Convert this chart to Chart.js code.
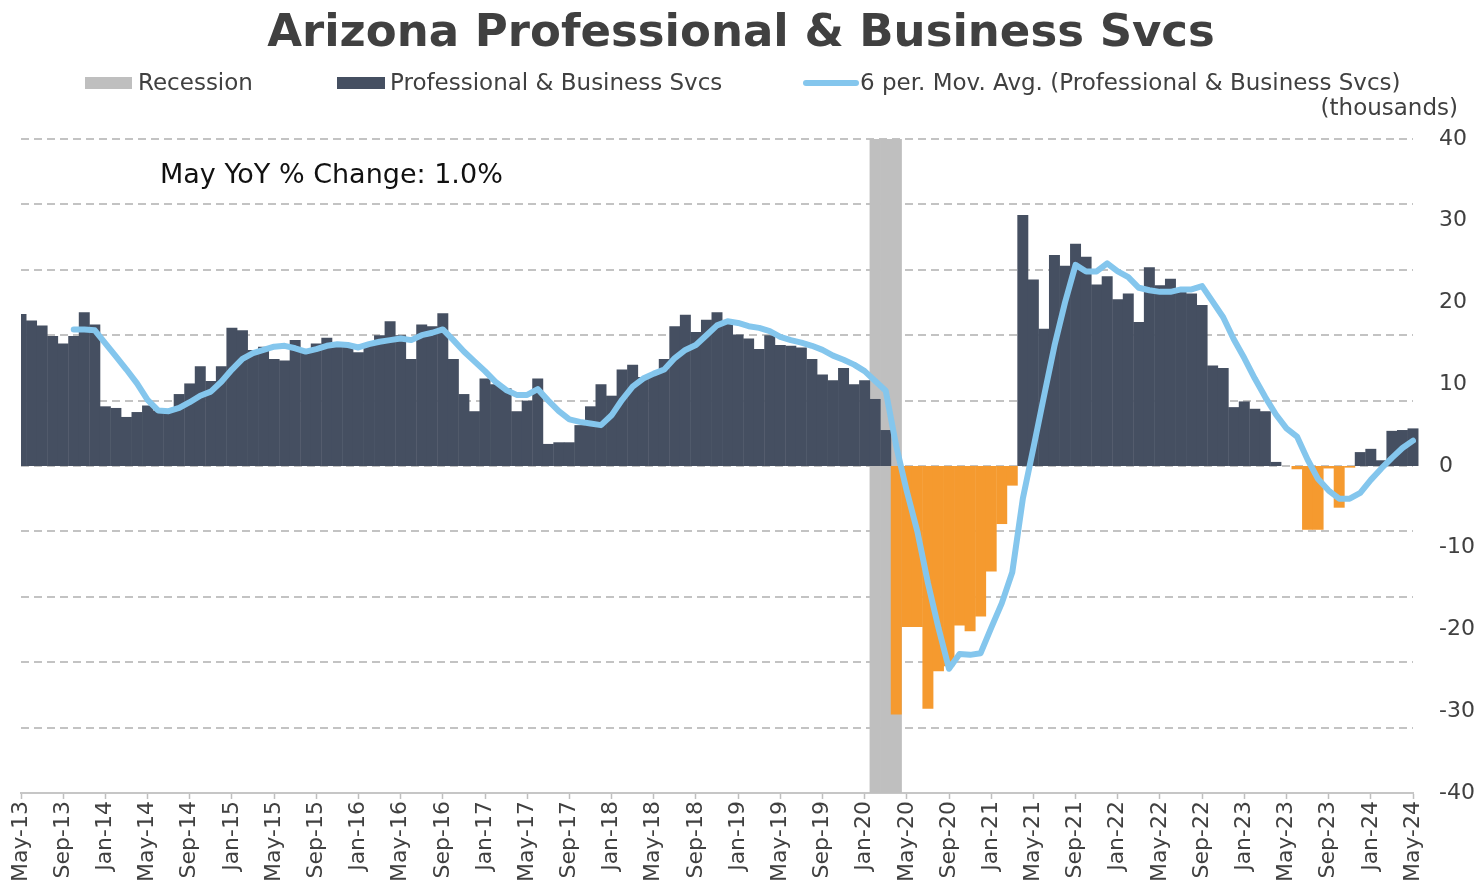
<!DOCTYPE html>
<html>
<head>
<meta charset="utf-8">
<script src="https://cdn.jsdelivr.net/npm/chart.js@4/dist/chart.umd.min.js"></script>
<style>
html,body{margin:0;padding:0;background:#ffffff;}
#wrap{width:1478px;height:895px;position:relative;}
</style>
</head>
<body>
<div id="wrap"><canvas id="c" width="1478" height="895"></canvas></div>
<script>
// ---------------- data ----------------
const chartTitle = 'Arizona Professional & Business Svcs';
const unitsLabel = '(thousands)';
const noteText = 'May YoY % Change: 1.0%';

const categories = [
  'May-13','Jun-13','Jul-13','Aug-13','Sep-13','Oct-13','Nov-13','Dec-13',
  'Jan-14','Feb-14','Mar-14','Apr-14','May-14','Jun-14','Jul-14','Aug-14','Sep-14','Oct-14','Nov-14','Dec-14',
  'Jan-15','Feb-15','Mar-15','Apr-15','May-15','Jun-15','Jul-15','Aug-15','Sep-15','Oct-15','Nov-15','Dec-15',
  'Jan-16','Feb-16','Mar-16','Apr-16','May-16','Jun-16','Jul-16','Aug-16','Sep-16','Oct-16','Nov-16','Dec-16',
  'Jan-17','Feb-17','Mar-17','Apr-17','May-17','Jun-17','Jul-17','Aug-17','Sep-17','Oct-17','Nov-17','Dec-17',
  'Jan-18','Feb-18','Mar-18','Apr-18','May-18','Jun-18','Jul-18','Aug-18','Sep-18','Oct-18','Nov-18','Dec-18',
  'Jan-19','Feb-19','Mar-19','Apr-19','May-19','Jun-19','Jul-19','Aug-19','Sep-19','Oct-19','Nov-19','Dec-19',
  'Jan-20','Feb-20','Mar-20','Apr-20','May-20','Jun-20','Jul-20','Aug-20','Sep-20','Oct-20','Nov-20','Dec-20',
  'Jan-21','Feb-21','Mar-21','Apr-21','May-21','Jun-21','Jul-21','Aug-21','Sep-21','Oct-21','Nov-21','Dec-21',
  'Jan-22','Feb-22','Mar-22','Apr-22','May-22','Jun-22','Jul-22','Aug-22','Sep-22','Oct-22','Nov-22','Dec-22',
  'Jan-23','Feb-23','Mar-23','Apr-23','May-23','Jun-23','Jul-23','Aug-23','Sep-23','Oct-23','Nov-23','Dec-23',
  'Jan-24','Feb-24','Mar-24','Apr-24','May-24'
];

const xTickLabels = [
  'May-13','Sep-13','Jan-14','May-14','Sep-14','Jan-15','May-15','Sep-15','Jan-16','May-16','Sep-16',
  'Jan-17','May-17','Sep-17','Jan-18','May-18','Sep-18','Jan-19','May-19','Sep-19','Jan-20','May-20',
  'Sep-20','Jan-21','May-21','Sep-21','Jan-22','May-22','Sep-22','Jan-23','May-23','Sep-23','Jan-24','May-24'
];

// YoY change, thousands
const pbsValues = [
  18.6,17.8,17.2,15.9,15.0,15.9,18.8,17.3,
  7.3,7.1,6.0,6.6,7.4,6.8,6.9,8.8,10.1,12.2,10.4,12.2,
  16.9,16.6,14.2,14.6,13.1,12.9,15.4,14.2,15.0,15.7,14.6,14.6,
  13.9,14.8,16.0,17.7,16.0,13.1,17.3,17.1,18.7,13.1,8.8,6.7,
  10.7,10.0,9.5,6.7,8.0,10.7,2.7,2.9,2.9,5.0,7.3,10.0,
  8.6,11.8,12.4,10.9,11.2,13.1,17.1,18.5,16.4,17.9,18.8,17.5,
  16.1,15.6,14.3,16.0,14.8,14.7,14.5,13.1,11.2,10.5,12.0,10.0,
  10.5,8.2,4.4,-30.4,-19.7,-19.7,-29.7,-25.1,-24.5,-19.5,-20.2,-18.4,
  -12.9,-7.1,-2.4,30.7,22.8,16.8,25.8,24.5,27.2,25.6,22.2,23.2,
  20.4,21.1,17.6,24.3,22.1,22.9,21.6,21.1,19.7,12.3,12.0,7.2,
  7.9,7.0,6.7,0.5,0.0,-0.4,-7.8,-7.8,-0.3,-5.1,-0.2,1.7,
  2.1,0.7,4.3,4.4,4.6
];

// 6-period moving average
const movAvgValues = [
  null,null,null,null,null,16.7,16.7,16.6,
  15.0,13.4,11.8,10.1,8.1,6.8,6.7,7.1,7.8,8.6,9.1,10.3,
  11.8,13.1,13.8,14.2,14.6,14.7,14.4,14.0,14.3,14.7,14.9,14.8,
  14.5,14.9,15.2,15.4,15.6,15.4,16.0,16.3,16.7,15.4,14.0,12.8,
  11.6,10.3,9.3,8.7,8.7,9.4,8.0,6.7,5.7,5.4,5.2,5.0,
  6.2,8.1,9.7,10.7,11.3,11.8,13.2,14.2,14.8,16.0,17.2,17.7,
  17.5,17.1,16.9,16.5,15.8,15.4,15.1,14.7,14.2,13.5,13.0,12.4,
  11.6,10.4,9.2,2.4,-3.1,-8.0,-14.3,-19.8,-24.8,-23.0,-23.1,-22.9,
  -19.8,-16.8,-13.0,-4.0,2.2,8.5,14.7,20.0,24.6,23.8,23.8,24.8,
  23.8,23.1,21.8,21.5,21.3,21.3,21.6,21.6,22.0,20.1,18.2,15.5,
  13.2,10.7,8.4,6.3,4.6,3.6,0.8,-1.6,-3.0,-4.0,-4.0,-3.3,
  -1.7,-0.3,1.0,2.2,3.1
];

const recessionMonths = ['Feb-20','Mar-20','Apr-20'];
const recessionRange = [-40, 40];
const yTickStep = 10;
const gridStep = 8;
const yMin = -40, yMax = 40;

// ---------------- styles ----------------
const FONT = '"DejaVu Sans", Verdana, sans-serif';
const posColor = '#454f61';
const negColor = '#f59a2f';
const recColor = '#bfbfbf';
const lineColor = '#84c6ed';
const textColor = '#404040';
const gridColor = '#c3c3c3';

const recessionData = categories.map(c => recessionMonths.includes(c) ? recessionRange.slice() : null);

const overlayPlugin = {
  id: 'overlay',
  beforeDraw(chart) {
    const ctx = chart.ctx;
    ctx.save();
    ctx.fillStyle = '#ffffff';
    ctx.fillRect(0, 0, chart.width, chart.height);
    ctx.restore();
  },
  afterDraw(chart) {
    const ctx = chart.ctx;
    const ds = chart.data.datasets;
    ctx.save();
    // title
    ctx.fillStyle = textColor;
    ctx.font = 'bold 45px ' + FONT;
    ctx.textAlign = 'center';
    ctx.textBaseline = 'alphabetic';
    ctx.fillText(chartTitle, 741, 46);

    // legend
    ctx.font = '23px ' + FONT;
    ctx.textAlign = 'left';
    ctx.textBaseline = 'middle';
    const ly = 83;
    // Recession
    ctx.fillStyle = ds[2].backgroundColor;
    ctx.fillRect(85, ly - 6, 47, 12);
    ctx.fillStyle = textColor;
    ctx.fillText(ds[2].label, 138, ly + 1);
    // bars
    ctx.fillStyle = posColor;
    ctx.fillRect(337, ly - 6, 48, 12);
    ctx.fillStyle = textColor;
    ctx.fillText(ds[1].label, 390, ly + 1);
    // line
    ctx.strokeStyle = ds[0].borderColor;
    ctx.lineWidth = 6;
    ctx.lineCap = 'round';
    ctx.beginPath();
    ctx.moveTo(806, ly);
    ctx.lineTo(856, ly);
    ctx.stroke();
    ctx.fillStyle = textColor;
    ctx.fillText(ds[0].label, 860, ly + 1);

    // units
    ctx.font = '23px ' + FONT;
    ctx.textAlign = 'right';
    ctx.textBaseline = 'alphabetic';
    ctx.fillText(unitsLabel, 1458, 115);

    // note
    ctx.fillStyle = '#111111';
    ctx.font = '27px ' + FONT;
    ctx.textAlign = 'left';
    ctx.fillText(noteText, 160, 183);
    ctx.restore();
  }
};

Chart.defaults.font.family = FONT;

new Chart(document.getElementById('c'), {
  type: 'bar',
  data: {
    labels: categories,
    datasets: [
      {
        type: 'line',
        label: '6 per. Mov. Avg. (Professional & Business Svcs)',
        data: movAvgValues,
        borderColor: lineColor,
        backgroundColor: lineColor,
        borderWidth: 6,
        pointRadius: 0,
        tension: 0,
        borderJoinStyle: 'round',
        borderCapStyle: 'round',
        spanGaps: false,
        order: 0
      },
      {
        type: 'bar',
        label: 'Professional & Business Svcs',
        data: pbsValues,
        backgroundColor: c => (c.raw < 0 ? negColor : posColor),
        borderWidth: 0,
        grouped: false,
        barPercentage: 1.04,
        categoryPercentage: 1,
        clip: {left: 0, top: 0, right: 6, bottom: 0},
        order: 1
      },
      {
        type: 'bar',
        label: 'Recession',
        data: recessionData,
        backgroundColor: recColor,
        borderWidth: 0,
        grouped: false,
        barPercentage: 1,
        categoryPercentage: 1,
        order: 2
      }
    ]
  },
  options: {
    responsive: false,
    animation: false,
    devicePixelRatio: 1,
    layout: { padding: { top: 139, left: 21, right: 0, bottom: 0 } },
    plugins: {
      legend: { display: false },
      title: { display: false },
      tooltip: { enabled: false }
    },
    events: [],
    scales: {
      x: {
        type: 'category',
        offset: false,
        grid: {
          display: true,
          offset: false,
          drawOnChartArea: false,
          drawTicks: true,
          tickLength: 6,
          tickWidth: 1.5,
          tickColor: c => (xTickLabels.includes(categories[c.index]) ? '#bfbfbf' : 'rgba(0,0,0,0)')
        },
        border: { display: true, color: '#c6c6c6', width: 2 },
        ticks: {
          autoSkip: false,
          maxRotation: 90,
          minRotation: 90,
          padding: 2,
          color: textColor,
          font: { size: 22 },
          callback: (v, i) => (xTickLabels.includes(categories[i]) ? categories[i] : '')
        },
        afterFit(s) { s.height = 102; }
      },
      y: {
        position: 'right',
        min: yMin,
        max: yMax,
        grid: { display: false, drawTicks: false },
        border: { display: false },
        ticks: {
          stepSize: yTickStep,
          padding: 26,
          color: textColor,
          font: { size: 22 }
        },
        afterFit(s) { s.width = 65; }
      },
      yGrid: {
        position: 'left',
        min: yMin,
        max: yMax,
        grid: {
          display: true,
          drawTicks: false,
          color: c => (c.tick && c.tick.value === yMin ? 'rgba(0,0,0,0)' : gridColor),
          lineWidth: 2
        },
        border: { display: false, dash: [8, 5] },
        ticks: { display: false, stepSize: gridStep },
        afterFit(s) { s.width = 0; }
      }
    }
  },
  plugins: [overlayPlugin]
});
</script>
</body>
</html>
